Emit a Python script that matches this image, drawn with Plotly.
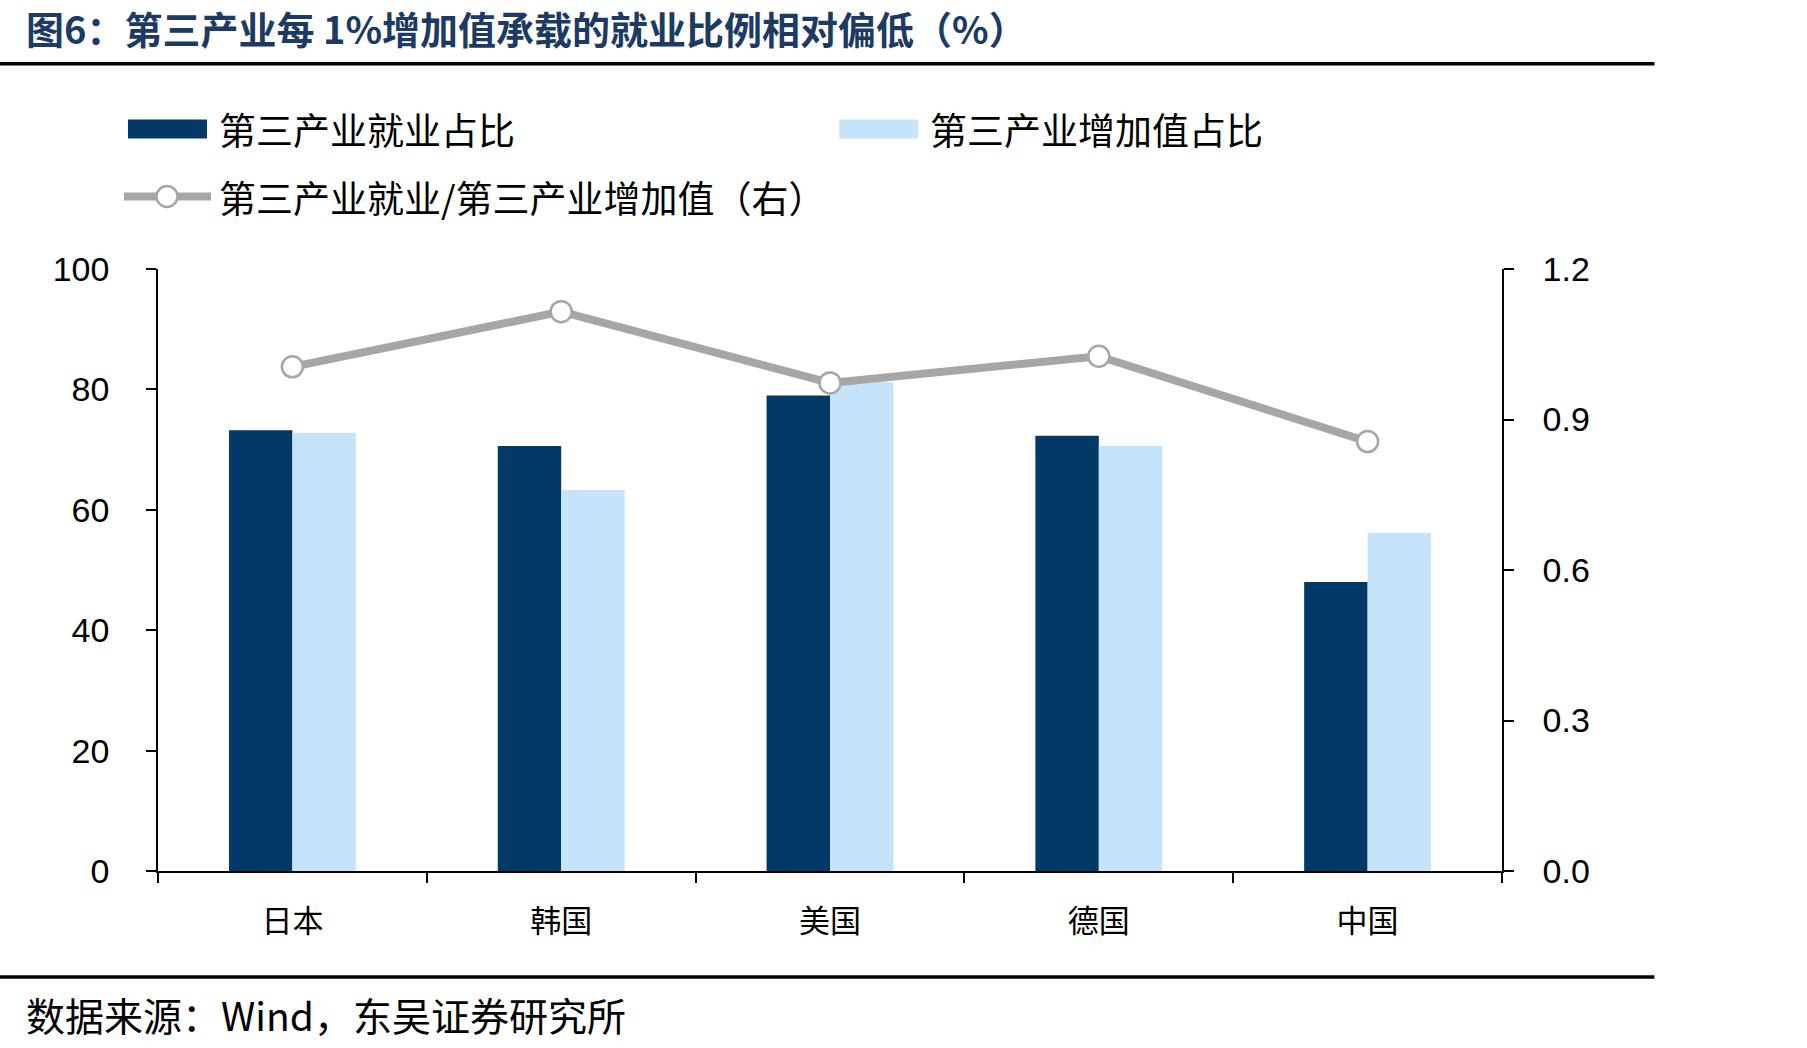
import plotly.graph_objects as go

categories = ["日本", "韩国", "美国", "德国", "中国"]
employment_share = [73.2, 70.6, 79.0, 72.3, 48.0]
value_added_share = [72.8, 63.3, 81.2, 70.6, 56.2]
ratio = [1.005, 1.115, 0.973, 1.026, 0.856]

left_ticks = [0, 20, 40, 60, 80, 100]
right_ticks = [0.0, 0.3, 0.6, 0.9, 1.2]
right_tick_text = ["0.0", "0.3", "0.6", "0.9", "1.2"]

name_emp = "第三产业就业占比"
name_va = "第三产业增加值占比"
name_ratio = "第三产业就业/第三产业增加值（右）"
title_text = "图6：第三产业每 1%增加值承载的就业比例相对偏低（%）"
source_text = "数据来源：Wind，东吴证券研究所"

DARK = "#033966"
LIGHT = "#C6E3FC"
GREY = "#A6A6A6"
NAVY = "#1C3A64"
CJK = "Noto Sans CJK SC"
NUM = "Liberation Sans, Arial"

W, H = 1807, 1048
L, R, T, B = 158, 1501.6, 268.5, 871.0
PW, PH = R - L, B - T


def px(x):
    return (x - L) / PW


def py(y):
    return (B - y) / PH


fig = go.Figure()
fig.add_trace(go.Bar(x=categories, y=employment_share, name=name_emp,
                     marker=dict(color=DARK, line=dict(width=0)), showlegend=False))
fig.add_trace(go.Bar(x=categories, y=value_added_share, name=name_va,
                     marker=dict(color=LIGHT, line=dict(width=0)), showlegend=False))
fig.add_trace(go.Scatter(x=categories, y=ratio, name=name_ratio, yaxis="y2",
                         mode="lines+markers",
                         line=dict(color=GREY, width=8),
                         marker=dict(symbol="circle", size=21, color="white",
                                     line=dict(color=GREY, width=2.5)),
                         showlegend=False))

shapes = []
annotations = []

# header / footer rules
shapes.append(dict(type="line", xref="paper", yref="paper", x0=px(0), x1=px(1654),
                   y0=py(63), y1=py(63), line=dict(color="black", width=3.5)))
shapes.append(dict(type="line", xref="paper", yref="paper", x0=px(0), x1=px(1654),
                   y0=py(977), y1=py(977), line=dict(color="black", width=3.5)))

annotations.append(dict(text="<b>" + title_text + "</b>", xref="paper", yref="paper",
                        x=px(24), y=py(27), xanchor="left", yanchor="middle",
                        showarrow=False, font=dict(family=CJK, size=38, color=NAVY)))
annotations.append(dict(text=source_text, xref="paper", yref="paper",
                        x=px(24), y=py(1014), xanchor="left", yanchor="middle",
                        showarrow=False, font=dict(family=CJK, size=39, color="black")))

# custom legend
shapes.append(dict(type="rect", xref="paper", yref="paper", x0=px(128), x1=px(207),
                   y0=py(138), y1=py(119), fillcolor=DARK, line=dict(width=0)))
annotations.append(dict(text=name_emp, xref="paper", yref="paper", x=px(217), y=py(128),
                        xanchor="left", yanchor="middle", showarrow=False,
                        font=dict(family=CJK, size=37, color="black")))
shapes.append(dict(type="rect", xref="paper", yref="paper", x0=px(839), x1=px(918),
                   y0=py(138), y1=py(119), fillcolor=LIGHT, line=dict(width=0)))
annotations.append(dict(text=name_va, xref="paper", yref="paper", x=px(928), y=py(128),
                        xanchor="left", yanchor="middle", showarrow=False,
                        font=dict(family=CJK, size=37, color="black")))
shapes.append(dict(type="line", xref="paper", yref="paper", x0=px(124), x1=px(211),
                   y0=py(196), y1=py(196), line=dict(color=GREY, width=8)))
shapes.append(dict(type="circle", xref="paper", yref="paper", x0=px(156.5), x1=px(177.5),
                   y0=py(206.5), y1=py(185.5), fillcolor="white", line=dict(color=GREY, width=2.5)))
annotations.append(dict(text=name_ratio, xref="paper", yref="paper", x=px(217), y=py(196),
                        xanchor="left", yanchor="middle", showarrow=False,
                        font=dict(family=CJK, size=37, color="black")))

fig.update_layout(
    width=W, height=H,
    margin=dict(l=L, r=W - R, t=T, b=H - B, pad=0),
    paper_bgcolor="white", plot_bgcolor="white",
    barmode="group", bargap=0.528, bargroupgap=0,
    showlegend=False,
    shapes=shapes, annotations=annotations,
    xaxis=dict(type="category", showgrid=False, showline=True, linecolor="black",
               linewidth=1.5, ticks="outside", tickson="boundaries", ticklen=10,
               tickcolor="black", tickwidth=1.5, ticklabelstandoff=22,
               tickfont=dict(family=CJK, size=31, color="black")),
    yaxis=dict(range=[0, 100], tickvals=left_ticks, showgrid=False, zeroline=False,
               showline=True, linecolor="black", linewidth=1.5, ticks="outside",
               ticklen=10, tickcolor="black", tickwidth=1.5, ticklabelstandoff=30,
               tickfont=dict(family=NUM, size=34, color="black")),
    yaxis2=dict(range=[0, 1.2], tickvals=right_ticks, ticktext=right_tick_text,
                overlaying="y", side="right", showgrid=False, zeroline=False,
                showline=True, linecolor="black", linewidth=1.5, ticks="outside",
                ticklen=10, tickcolor="black", tickwidth=1.5, ticklabelstandoff=22,
                tickfont=dict(family=NUM, size=34, color="black")),
)

fig.write_html("out.html")
